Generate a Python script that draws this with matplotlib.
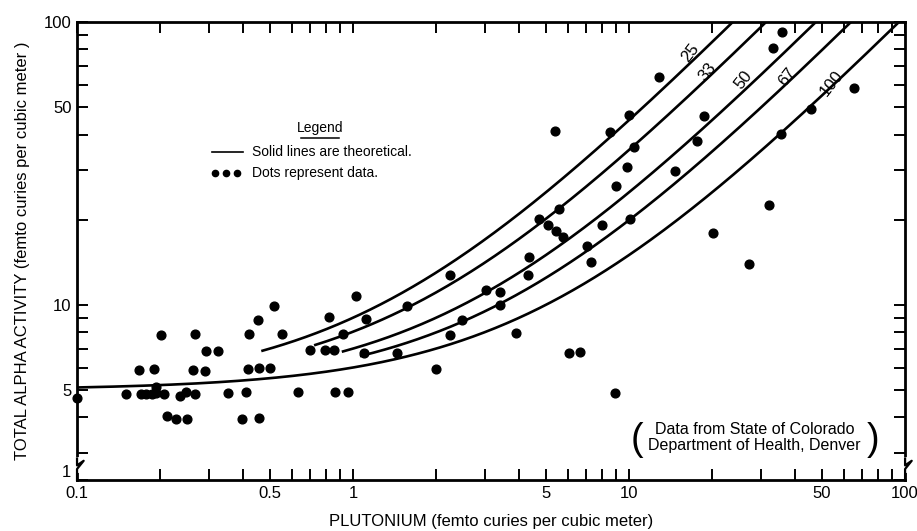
import numpy as np
import matplotlib
matplotlib.use("Agg")
import matplotlib.pyplot as plt
from matplotlib.ticker import FixedLocator, NullFormatter

plt.rcParams['font.family'] = ['Liberation Sans', 'DejaVu Sans']

# Dots: plutonium (x) vs total alpha activity (y)
pu_data = [0.1, 0.150, 0.170, 0.178, 0.187, 0.194, 0.193, 0.207, 0.236, 0.248,
           0.268, 0.353, 0.410, 0.632, 0.863, 0.961, 0.211, 0.229, 0.250, 0.395,
           0.456, 0.168, 0.190, 0.201, 0.267, 0.263, 0.291, 0.294, 0.323, 0.416,
           0.457, 0.502, 0.420, 0.452, 0.519, 0.553, 0.819, 1.023, 1.112, 0.920,
           0.697, 0.790, 0.854, 1.093, 1.569, 1.443, 2.24, 2.00, 2.49, 2.25,
           3.03, 3.40, 3.42, 3.91, 4.35, 4.32, 5.38, 9.97, 8.55, 10.4,
           9.86, 8.95, 14.7, 17.6, 18.7, 5.58, 4.72, 5.09, 5.43, 5.77,
           7.98, 10.1, 7.06, 7.26, 6.06, 6.63, 8.88, 12.8, 35.9, 33.2,
           45.8, 65.2, 35.6, 32.2, 20.2, 27.1]
alpha_data = [4.68, 4.85, 4.82, 4.82, 4.83, 4.88, 5.14, 4.85, 4.77, 4.90,
              4.84, 4.88, 4.91, 4.91, 4.91, 4.93, 4.05, 3.95, 3.95, 3.95,
              3.97, 5.89, 5.91, 7.83, 7.89, 5.89, 5.85, 6.88, 6.87, 5.94,
              5.96, 5.96, 7.87, 8.80, 9.92, 7.90, 9.02, 10.7, 8.92, 7.90,
              6.93, 6.90, 6.90, 6.75, 9.92, 6.75, 12.7, 5.92, 8.80, 7.83,
              11.3, 11.1, 9.98, 7.92, 14.7, 12.7, 41.2, 46.8, 40.7, 36.1,
              30.6, 26.3, 29.8, 37.8, 46.5, 21.8, 20.1, 19.2, 18.3, 17.4,
              19.1, 20.1, 16.1, 14.2, 6.78, 6.80, 4.87, 64.1, 91.9, 81.2,
              49.3, 58.3, 40.2, 22.6, 18.0, 13.9]

# Theoretical lines: alpha = background + Pu * 100 / percent
background = 5.0
percents = [25, 33, 50, 67, 100]
curve_start = [0.47, 0.73, 0.92, 1.07, 0.1]
label_x = [16.6, 19.3, 25.9, 37.4, 54.4]
label_y = [77.6, 66.6, 62.4, 64.0, 60.8]

x_ticks = [0.1, 0.5, 1, 5, 10, 50, 100]
x_ticklabels = ['0.1', '0.5', '1', '5', '10', '50', '100']
y_bottom = 2.4
y_ticks = [y_bottom, 5, 10, 50, 100]
y_ticklabels = ['1', '5', '10', '50', '100']

fig = plt.figure(figsize=(9.17, 5.31), dpi=100)
ax = fig.add_axes([0.084, 0.096, 0.903, 0.8625])
ax.set_xscale('log')
ax.set_yscale('log')
ax.set_xlim(0.1, 100)
ax.set_ylim(y_bottom, 100)

for p, x0 in zip(percents, curve_start):
    xs = np.geomspace(x0, 100, 300)
    ax.plot(xs, background + xs * 100.0 / p, color='black', lw=1.9)

for p, lx, ly in zip(percents, label_x, label_y):
    ax.text(lx, ly, str(p), rotation=52, ha='center', va='center', fontsize=12)

ax.plot(pu_data, alpha_data, 'o', color='black', markersize=6.3, clip_on=False, zorder=3)

# ticks
ax.xaxis.set_major_locator(FixedLocator(x_ticks))
ax.xaxis.set_ticklabels(x_ticklabels)
minor_x = [m * 10.0 ** e for e in (-1, 0, 1) for m in (2, 3, 4, 6, 7, 8, 9)]
ax.xaxis.set_minor_locator(FixedLocator(minor_x))
ax.xaxis.set_minor_formatter(NullFormatter())
ax.yaxis.set_major_locator(FixedLocator(y_ticks))
ax.yaxis.set_ticklabels(y_ticklabels)
minor_y = [m * 10.0 ** e for e in (0, 1) for m in (3, 4, 6, 7, 8, 9)] + [20]
ax.yaxis.set_minor_locator(FixedLocator(minor_y))
ax.yaxis.set_minor_formatter(NullFormatter())
ax.tick_params(which='both', direction='in', top=True, right=True,
               length=8, width=1.4, labelsize=12, pad=4)
for s in ax.spines.values():
    s.set_linewidth(2)
# the "1" at the broken bottom sits a little above the corner
ax.get_yticklabels()[0].set_va('bottom')

ax.set_xlabel('PLUTONIUM (femto curies per cubic meter)', fontsize=12, labelpad=10)
ax.set_ylabel('TOTAL ALPHA ACTIVITY (femto curies per cubic meter )', fontsize=12, labelpad=10)

# axis breaks
for xa in (0.0, 1.0):
    ax.plot([xa, xa], [0.022, 0.045], transform=ax.transAxes, color='white',
            lw=3.5, clip_on=False, zorder=4)
    ax.plot([xa, xa, xa + 0.008, xa, xa], [0.0, 0.024, 0.042, 0.032, 0.047],
            transform=ax.transAxes, color='black', lw=1.6, clip_on=False, zorder=5)

# legend drawn by hand
ax.text(0.293, 0.769, 'Legend', transform=ax.transAxes, ha='center', va='center', fontsize=10)
ax.plot([0.270, 0.316], [0.747, 0.747], transform=ax.transAxes, color='black', lw=1.1)
ax.plot([0.163, 0.200], [0.716, 0.716], transform=ax.transAxes, color='black', lw=1.2)
ax.text(0.211, 0.716, 'Solid lines are theoretical.', transform=ax.transAxes,
        va='center', fontsize=10)
ax.plot([0.167, 0.180, 0.193], [0.670, 0.670, 0.670], 'o', transform=ax.transAxes,
        color='black', markersize=4.5)
ax.text(0.211, 0.670, 'Dots represent data.', transform=ax.transAxes,
        va='center', fontsize=10)

# source note
ax.text(0.818, 0.092, 'Data from State of Colorado\nDepartment of Health, Denver',
        transform=ax.transAxes, ha='center', va='center', fontsize=11.5, linespacing=1.1)
ax.text(0.676, 0.088, '(', transform=ax.transAxes, ha='center', va='center', fontsize=27)
ax.text(0.961, 0.088, ')', transform=ax.transAxes, ha='center', va='center', fontsize=27)

fig.savefig('out.png', dpi=100)
